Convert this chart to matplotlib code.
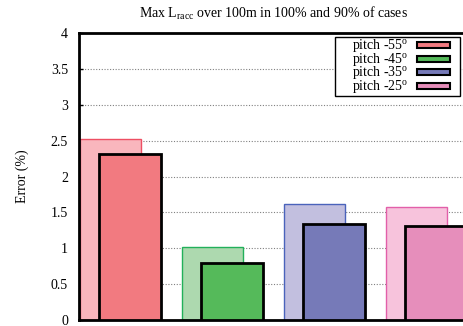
import matplotlib
matplotlib.use("Agg")
import matplotlib.pyplot as plt
from matplotlib.patches import Rectangle

plt.rcParams['font.family'] = ['Liberation Serif', 'DejaVu Serif']
plt.rcParams['mathtext.fontset'] = 'custom'
plt.rcParams['mathtext.rm'] = 'Liberation Serif'
plt.rcParams['mathtext.it'] = 'Liberation Serif:italic'

# Max error over 100 m: all cases (100%) and 90% of cases
pitch_labels = ['pitch -55', 'pitch -45', 'pitch -35', 'pitch -25']
err_100 = [2.52, 1.02, 1.61, 1.58]
err_90 = [2.32, 0.80, 1.34, 1.31]
y_ticks = [0, 0.5, 1, 1.5, 2, 2.5, 3, 3.5, 4]

light_fill = ['#F9B6BD', '#ADD9AF', '#C2BFDF', '#F7C3DC']
light_edge = ['#EE4F63', '#22B05A', '#4A63BB', '#E25FA9']
dark_fill = ['#F27A80', '#55BA5A', '#767AB8', '#E68EBB']

W, H = 464, 326
FS = 10
fig = plt.figure(figsize=(W / 100, H / 100), dpi=100)
ax = fig.add_axes([79 / W, 6 / H, (467 - 79) / W, (320 - 33) / H])

x = list(range(len(pitch_labels)))
ax.bar([i + 0.005 for i in x], err_100, width=0.6, align='edge',
       color=light_fill, edgecolor=light_edge, linewidth=1.0, zorder=2)
ax.bar([i + 0.2 for i in x], err_90, width=0.6, align='edge',
       color=dark_fill, edgecolor='black', linewidth=2.0, zorder=3)

ax.set_xlim(0, (467 - 79) / 102)
ax.set_ylim(0, 4)
ax.set_yticks(y_ticks)
ax.set_yticklabels([f'{v:g}' for v in y_ticks], fontsize=FS)
ax.set_xticks([])
ax.tick_params(axis='y', direction='in', length=3, width=1, pad=8,
               right=True, left=True)
for t in y_ticks[1:-1]:
    ax.axhline(t, color='#808080', linestyle=(0, (1, 1.5)), linewidth=0.8,
               zorder=1)
for side in ['left', 'top', 'bottom', 'right']:
    ax.spines[side].set_linewidth(2)

ax.set_ylabel('Error (%)', fontsize=FS)
ax.yaxis.set_label_coords(-(79 - 29) / (467 - 79), 0.5)

fig.text(273 / W, 1 - 13 / H,
         r'Max L$_{\rm racc}$ over 100m in 100% and 90% of cases',
         ha='center', va='center', fontsize=FS)

# legend box drawn in figure pixel coordinates
def fx(px):
    return px / W

def fy(py):
    return 1 - py / H

fig.patches.append(Rectangle((fx(335), fy(96)), fx(460) - fx(335),
                             fy(37) - fy(96), transform=fig.transFigure,
                             facecolor='white', edgecolor='black',
                             linewidth=1.0, zorder=5))
rows = [45, 59, 72, 86]
for lab, col, yy in zip(pitch_labels, dark_fill, rows):
    fig.text(fx(408), fy(yy + 4), lab + r'$^{\rm o}$', ha='right',
             va='baseline', fontsize=FS, zorder=6)
    fig.patches.append(Rectangle((fx(417), fy(yy + 3)), fx(450) - fx(417),
                                 fy(yy - 3) - fy(yy + 3),
                                 transform=fig.transFigure, facecolor=col,
                                 edgecolor='black', linewidth=1.5, zorder=6))

fig.savefig('out.png', dpi=100)
